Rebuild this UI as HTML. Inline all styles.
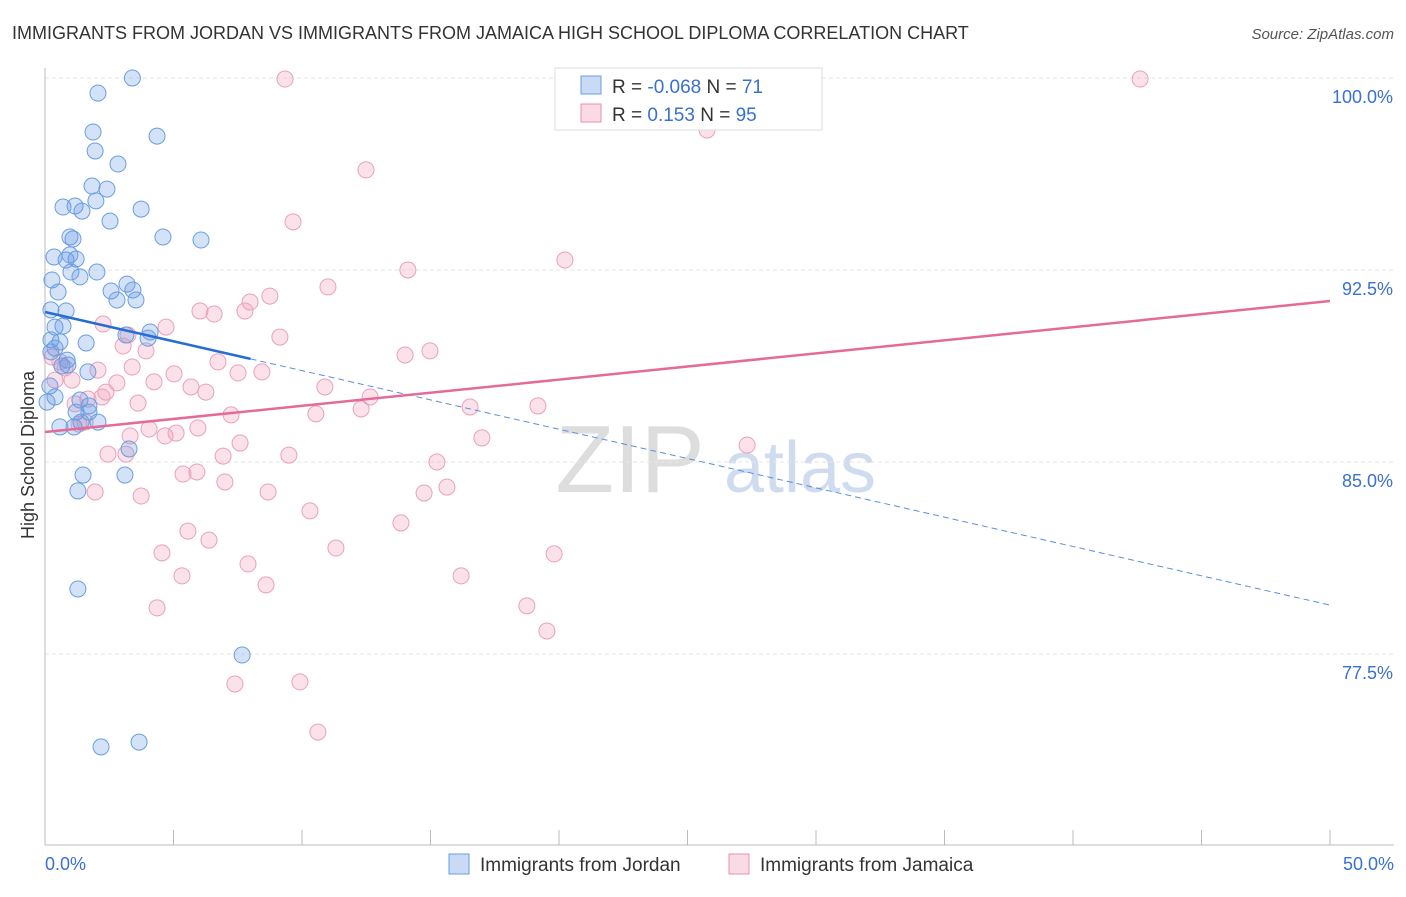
<!DOCTYPE html>
<html><head><meta charset="utf-8"><style>
body{margin:0;background:#fff;font-family:"Liberation Sans",sans-serif;}
svg text{font-family:"Liberation Sans",sans-serif;}
</style></head><body>
<svg id="chart" width="1406" height="892" viewBox="0 0 1406 892" xmlns="http://www.w3.org/2000/svg">
<text x="12" y="39" font-size="18" fill="#333">IMMIGRANTS FROM JORDAN VS IMMIGRANTS FROM JAMAICA HIGH SCHOOL DIPLOMA CORRELATION CHART</text>
<text x="1394" y="39" font-size="15" fill="#555" font-style="italic" text-anchor="end">Source: ZipAtlas.com</text>
<text x="630" y="492" font-size="96" fill="#ddd" font-family="Liberation Serif" text-anchor="middle">ZIP</text>
<text x="800" y="492" font-size="72" fill="#cfdcf0" text-anchor="middle">atlas</text>
<g id="grid"></g>
<g id="axes"></g>
<g id="points"></g>
<g id="trends"></g>
<text transform="translate(34,455) rotate(-90)" font-size="18" fill="#333" text-anchor="middle">High School Diploma</text>
<g>
<rect x="555" y="68" width="267" height="62" fill="#fff" stroke="#ddd"/>
<rect x="581" y="76" width="20" height="18" fill="rgba(100,150,230,0.35)" stroke="#6a9ee0"/>
<rect x="581" y="104" width="20" height="18" fill="rgba(240,150,180,0.35)" stroke="#e890ae"/>
<text x="612" y="93" font-size="19" fill="#333">R = <tspan fill="#3a70d0">-0.068</tspan>   N = <tspan fill="#3a70d0"> 71</tspan></text>
<text x="612" y="121" font-size="19" fill="#333">R =   <tspan fill="#3a70d0">0.153</tspan>   N = <tspan fill="#3a70d0">95</tspan></text>
</g>
<g>
<rect x="449" y="854" width="20" height="20" fill="rgba(100,150,230,0.35)" stroke="#6a9ee0"/>
<text x="480" y="871" font-size="19" fill="#333">Immigrants from Jordan</text>
<rect x="729" y="854" width="20" height="20" fill="rgba(240,150,180,0.35)" stroke="#e890ae"/>
<text x="760" y="871" font-size="19" fill="#333">Immigrants from Jamaica</text>
</g>
</svg>
<script>
const yTicks=[100,92.5,85,77.5];
const yTickLabels=["100.0%","92.5%","85.0%","77.5%"];
const xTickLabels=["0.0%","50.0%"];
const jordanX=[3.4,2.06,4.36,1.87,1.95,2.84,1.83,2.41,1.98,0.70,1.17,1.44,3.74,2.53,0.97,1.09,6.07,4.59,0.35,0.82,1.21,0.97,2.02,1.01,0.27,1.36,3.19,3.42,2.57,0.51,2.80,3.54,0.82,0.23,0.70,0.39,4.09,3.15,4.01,0.23,1.60,0.58,0.39,0.23,0.89,1.67,0.19,0.39,0.08,1.36,1.71,1.21,1.71,1.40,0.58,1.13,2.06,3.27,3.11,1.48,1.28,1.28,7.67,2.18,3.66,0.86,0.66];
const jordanY=[100.0,99.41,97.73,97.89,97.15,96.64,95.78,95.66,95.20,94.96,95.0,94.80,94.88,94.41,93.79,93.71,93.67,93.79,93.01,92.89,92.93,93.09,92.42,92.42,92.11,92.23,91.95,91.72,91.68,91.64,91.33,91.33,90.90,90.94,90.31,90.27,90.08,89.96,89.84,89.77,89.65,89.69,89.45,89.30,88.79,88.52,87.97,87.54,87.34,87.42,87.19,86.95,86.95,86.56,86.37,86.37,86.56,85.51,84.49,84.49,83.87,80.04,77.46,73.87,74.06,88.98,88.75];
const jamaicaX=[9.34,20.27,42.61,25.76,12.49,9.65,20.23,14.12,11.01,8.75,7.98,6.03,6.58,7.78,4.71,2.26,9.14,3.23,3.04,3.93,14.01,14.98,6.73,0.27,0.58,0.78,2.06,3.39,5.02,7.51,8.44,0.39,1.05,2.80,4.24,5.68,6.26,2.37,10.89,12.65,16.54,19.18,1.67,2.22,1.17,3.62,1.32,3.31,2.45,4.05,4.67,5.10,5.95,7.24,10.54,12.30,17.00,7.59,3.15,9.49,15.25,6.93,5.37,5.91,7.00,1.95,3.74,8.68,14.75,15.64,10.31,13.85,5.56,6.38,11.32,4.55,19.81,7.90,5.33,16.19,8.60,4.36,18.75,19.53,7.39,9.92,10.62,27.32,1.56];
const jamaicaY=[99.96,99.96,99.96,97.97,96.41,94.38,92.89,92.50,91.84,91.48,91.25,90.90,90.78,90.90,90.27,90.39,89.88,89.96,89.53,89.34,89.18,89.34,88.91,89.10,88.91,88.67,88.59,88.71,88.44,88.48,88.52,88.20,88.20,88.09,88.13,87.93,87.73,87.73,87.93,87.54,87.15,87.19,87.46,87.54,87.27,87.30,86.48,86.02,85.31,86.29,86.02,86.13,86.33,86.84,86.88,87.07,85.94,85.74,85.31,85.27,85.0,85.23,84.53,84.61,84.22,83.83,83.67,83.83,83.79,84.02,83.09,82.62,82.30,81.95,81.64,81.45,81.41,81.02,80.55,80.55,80.20,79.30,79.38,78.40,76.33,76.41,74.45,85.66,86.56];
const jordanTrend=[90.86,79.41];
const jamaicaTrend=[86.17,91.29];
const NS="http://www.w3.org/2000/svg";
const xs=v=>45+v/50*1285;
const ys=v=>78+(100-v)*25.6;
function mk(tag,attrs,parent){const e=document.createElementNS(NS,tag);for(const k in attrs)e.setAttribute(k,attrs[k]);parent.appendChild(e);return e;}
const grid=document.getElementById('grid'),axes=document.getElementById('axes');
yTicks.forEach((t,i)=>{
  const l=mk('line',{x1:45,x2:1394,y1:ys(t),y2:ys(t),stroke:'#e6e6e6','stroke-dasharray':'4,3'},grid);
  
  
  const tx=mk('text',{x:1393,y:ys(t)+25,'font-size':18,fill:'#3a70d0','text-anchor':'end'},axes);
  tx.textContent=yTickLabels[i];
  
  
});
const ya=mk('line',{x1:45,x2:45,y1:68,y2:845,stroke:'#bbb'},axes);


const xa=mk('line',{x1:45,x2:1394,y1:845,y2:845,stroke:'#bbb'},axes);


for(let i=0;i<=10;i++){
  const t=mk('line',{x1:xs(i*5),x2:xs(i*5),y1:830,y2:845,stroke:'#bbb'},axes);
  
  
}
[[0,'start',45],[50,'end',1394]].forEach((d,i)=>{
  const tx=mk('text',{x:d[2],y:870,'font-size':18,fill:'#3a70d0','text-anchor':d[1]},axes);
  tx.textContent=xTickLabels[i];
  
  
});
const pts=document.getElementById('points');
jamaicaX.forEach((x,i)=>{
  const c=mk('circle',{cx:xs(x),cy:ys(jamaicaY[i]),r:8,fill:'rgba(240,150,180,0.28)',stroke:'#eaa0bb','stroke-width':1},pts);
  
  
});
jordanX.forEach((x,i)=>{
  const c=mk('circle',{cx:xs(x),cy:ys(jordanY[i]),r:8,fill:'rgba(100,150,230,0.28)',stroke:'#6a9ee0','stroke-width':1},pts);
  
  
});
const tr=document.getElementById('trends');
const jy=x=>jordanTrend[0]+(jordanTrend[1]-jordanTrend[0])*x/50;
const t1=mk('line',{x1:xs(0),y1:ys(jy(0)),x2:xs(8),y2:ys(jy(8)),stroke:'#2a6dd0','stroke-width':2.5},tr);


const t2=mk('line',{x1:xs(8),y1:ys(jy(8)),x2:xs(50),y2:ys(jy(50)),stroke:'#5a8ee0','stroke-width':1,'stroke-dasharray':'6,4'},tr);


const t3=mk('line',{x1:xs(0),y1:ys(jamaicaTrend[0]),x2:xs(50),y2:ys(jamaicaTrend[1]),stroke:'#e46a98','stroke-width':2.5},tr);


</script>
</body></html>
